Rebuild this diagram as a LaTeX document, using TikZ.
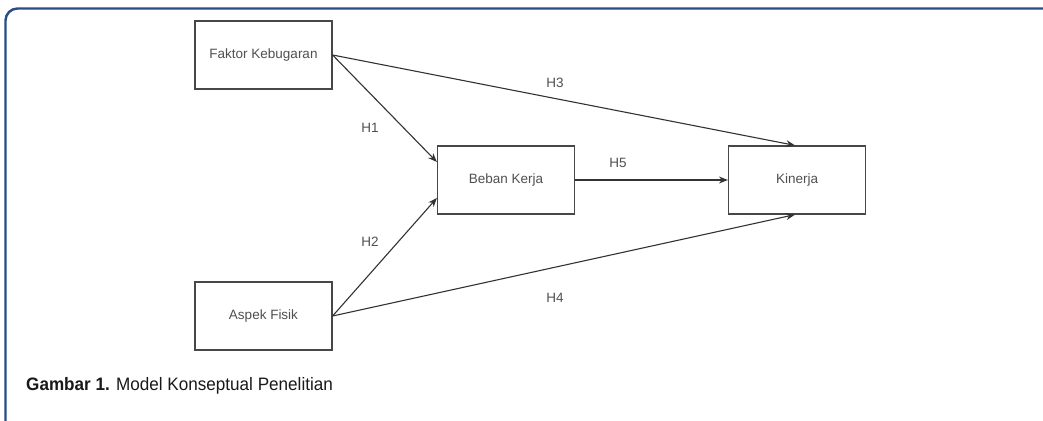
\documentclass[tikz,border=0pt]{standalone}
\usepackage{fontspec}
\setmainfont{Liberation Sans}
\usetikzlibrary{arrows.meta,calc}
\definecolor{framecol}{HTML}{2B4A87}
\definecolor{boxtext}{HTML}{505050}
\definecolor{linecol}{HTML}{333333}
\tikzset{
  var/.style={draw=linecol!90, line width=1.2pt, fill=white, minimum width=137pt, minimum height=68pt, inner sep=0pt, font=\fontsize{13.5}{16}\selectfont, text=boxtext},
  link/.style={draw=linecol, line width=1.1pt, -{Stealth[length=9pt,width=7pt]}},
  hlab/.style={font=\fontsize{13.5}{16}\selectfont, text=boxtext, inner sep=0pt}
}
\begin{document}
\begin{tikzpicture}[x=1pt,y=-1pt]
\useasboundingbox (0,0) rectangle (1043,420);
\clip (0,0) rectangle (1043,420);
\fill[white] (0,0) rectangle (1043,420);
\draw[framecol, line width=2.4pt, rounded corners=12pt] (5.5,430) -- (5.5,8.5) -- (1060,8.5);

\node[var] (fk) at (263.5,55) {Faktor Kebugaran};
\node[var] (af) at (263.5,316) {Aspek Fisik};
\node[var] (bk) at (506,180) {Beban Kerja};
\node[var] (kin) at (797,180) {Kinerja};

\draw[link] (fk.east) -- ([yshift=18pt]bk.west);
\draw[link] (af.east) -- ([yshift=-18pt]bk.west);
\draw[link] (fk.east) -- ([xshift=-2pt]kin.north);
\draw[link] (af.east) -- ([xshift=-2pt]kin.south);
\draw[link] (bk.east) -- (kin.west);

\node[hlab] (h1) at (370,128) {H1};
\node[hlab] (h2) at (370,242) {H2};
\node[hlab] (h3) at (555,83) {H3};
\node[hlab] (h4) at (555,298) {H4};
\node[hlab] (h5) at (618,163) {H5};

\node[anchor=base west, inner sep=0pt, text=black!90, font=\fontsize{18}{20}\selectfont] (cap) at (26,390.5) {\scalebox{0.95}[1]{\textbf{Gambar 1.} Model Konseptual Penelitian}};
\end{tikzpicture}
\end{document}
